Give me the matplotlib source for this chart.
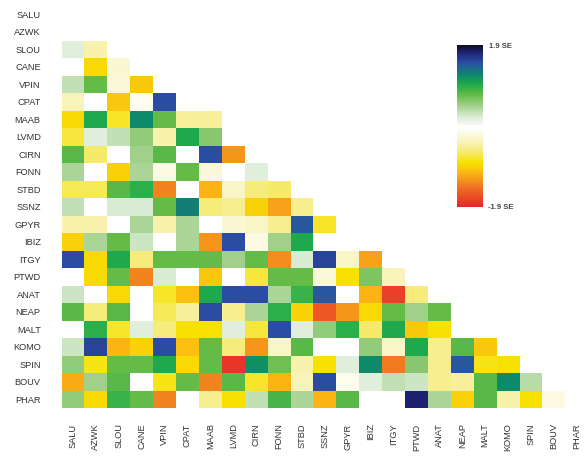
import numpy as np
import matplotlib
matplotlib.use("Agg")
import matplotlib.pyplot as plt
from matplotlib.colors import LinearSegmentedColormap, Normalize

plt.rcParams['font.family'] = ['Liberation Sans', 'DejaVu Sans']

populations = ["SALU", "AZWK", "SLOU", "CANE", "VPIN", "CPAT", "MAAB", "LVMD",
               "CIRN", "FONN", "STBD", "SSNZ", "GPYR", "IBIZ", "ITGY", "PTWD",
               "ANAT", "NEAP", "MALT", "KOMO", "SPIN", "BOUV", "PHAR"]

# Pairwise values (in SE units), one list per row, columns in population order
row_AZWK = [0.0]
row_SLOU = [0.2, -0.4]
row_CANE = [0.0, -0.9, -0.25]
row_VPIN = [0.35, 0.75, -0.2, -1.0]
row_CPAT = [-0.35, 0.0, -1.0, -0.1, 1.5]
row_MAAB = [-0.9, 1.0, -0.75, 1.2, 0.75, -0.45, -0.45]
row_LVMD = [-0.7, 0.2, 0.35, 0.55, -0.4, 1.0, 0.6]
row_CIRN = [0.8, -0.6, 0.0, 0.5, 0.8, 0.0, 1.5, -1.25]
row_FONN = [0.45, 0.0, -0.95, 0.45, -0.15, 0.75, -0.2, 0.0, 0.2]
row_STBD = [-0.65, -0.65, 0.8, 0.95, -1.35, 0.0, -1.1, -0.3, -0.55, -0.6]
row_SSNZ = [0.35, 0.0, 0.25, 0.25, 0.75, 1.25, -0.55, -0.5, -0.95, -1.2, -0.5]
row_GPYR = [-0.4, -0.4, 0.0, 0.45, -0.4, 0.45, 0.0, -0.25, -0.3, -0.5, 1.45, -0.75]
row_IBIZ = [-0.95, 0.45, 0.75, 0.3, 0.0, 0.45, -1.25, 1.5, -0.15, 0.5, 1.0, 0.0, 0.0]
row_ITGY = [1.5, -0.9, 1.0, -0.55, 0.75, 0.75, 0.75, 0.5, 0.75, -1.3, 0.25, 1.55,
            -0.3, -1.2]
row_PTWD = [0.0, -0.9, 0.75, -1.35, 0.25, 0.0, -1.0, 0.0, -0.7, 0.75, 0.75, -0.2,
            -0.85, 0.65, -0.35]
row_ANAT = [0.3, 0.0, -0.9, 0.0, -0.75, -1.05, 1.0, 1.5, 1.5, 0.45, 0.9, 1.45,
            0.0, -1.1, -1.75, -0.55]
row_NEAP = [0.8, -0.55, 0.8, 0.0, -0.65, -0.45, 1.5, -0.5, 0.45, 0.95, -0.95, -1.6,
            -1.25, -0.9, 0.75, 0.5, 0.75]
row_MALT = [0.0, 0.95, -0.75, 0.2, -0.55, -0.85, -0.85, 0.2, -0.7, 1.5, 0.2, 0.55,
            0.95, -0.6, 1.0, -1.0, -0.85, 0.0]
row_KOMO = [0.3, 1.55, -1.1, -0.95, 1.5, -1.05, 0.75, -0.55, -1.25, -0.3, 0.8, 0.0,
            0.0, 0.55, -0.3, 1.0, -0.5, 0.8, -1.0]
row_SPIN = [0.55, -0.8, 0.75, 0.75, 1.0, -0.9, 0.75, -1.8, 1.15, 0.7, -0.4, -0.85,
            0.2, 1.2, -1.4, 0.6, -0.5, 1.45, -0.8, -0.85]
row_BOUV = [-1.15, 0.5, 0.8, 0.0, -0.8, 0.75, -1.35, 0.8, -0.75, -1.1, -0.35, 1.5,
            -0.1, 0.2, 0.35, 0.3, -0.5, -0.45, 0.8, 1.2, 0.4]
row_PHAR = [0.55, -0.9, 0.9, 0.75, -1.35, 0.0, -0.5, -0.85, 0.35, 0.85, 0.45, -1.1,
            0.8, 0.0, 0.0, 1.75, 0.45, -0.95, 0.8, -0.4, -0.85, -0.15]

rows = {
    "AZWK": row_AZWK, "SLOU": row_SLOU, "CANE": row_CANE, "VPIN": row_VPIN,
    "CPAT": row_CPAT, "MAAB": row_MAAB, "LVMD": row_LVMD, "CIRN": row_CIRN,
    "FONN": row_FONN, "STBD": row_STBD, "SSNZ": row_SSNZ, "GPYR": row_GPYR,
    "IBIZ": row_IBIZ, "ITGY": row_ITGY, "PTWD": row_PTWD, "ANAT": row_ANAT,
    "NEAP": row_NEAP, "MALT": row_MALT, "KOMO": row_KOMO, "SPIN": row_SPIN,
    "BOUV": row_BOUV, "PHAR": row_PHAR,
}

vmin, vmax = -1.9, 1.9

# Diverging scale: red-orange-yellow below zero, green-teal-blue-black above
anchor_values = [-1.9, -1.4, -1.1, -0.85, -0.55, -0.3, 0.0, 0.25, 0.5, 0.75,
                 0.98, 1.2, 1.5, 1.75, 1.9]
anchor_colors = ["#e8262a", "#f07a22", "#fbb614", "#f7e200", "#f6ec80", "#f9f5c8",
                 "#ffffff", "#d9ebd2", "#a0d08a", "#66bb48", "#22ad4a", "#0c8a6a",
                 "#2c4ea6", "#1c2270", "#0e0e20"]
positions = [(v - vmin) / (vmax - vmin) for v in anchor_values]
cmap = LinearSegmentedColormap.from_list("se_scale", list(zip(positions, anchor_colors)))
norm = Normalize(vmin=vmin, vmax=vmax)

n = len(populations)
matrix = np.full((n, n), np.nan)
for name, vals in rows.items():
    i = populations.index(name)
    matrix[i, :len(vals)] = vals
masked = np.ma.masked_invalid(matrix)

W, H = 584, 457
fig = plt.figure(figsize=(W / 100, H / 100), dpi=100)
fig.patch.set_facecolor("white")

# main grid
left, right, top, bottom = 61.5, 588.2, 5.7, 408.2
ax = fig.add_axes([left / W, 1 - bottom / H, (right - left) / W, (bottom - top) / H])
ax.pcolormesh(np.arange(n + 1), np.arange(n + 1), masked, cmap=cmap, norm=norm,
              shading="flat", edgecolors="none", antialiased=False)
ax.set_xlim(0, n)
ax.set_ylim(n, 0)
ax.set_xticks(np.arange(n) + 0.5)
ax.set_yticks(np.arange(n) + 0.5)
ax.set_xticklabels(populations, rotation=90, fontsize=6.7, color="#333333")
ax.set_yticklabels(populations, fontsize=6.7, color="#333333")
ax.tick_params(axis="x", length=0, pad=11)
ax.tick_params(axis="y", length=0, pad=15)
for s in ax.spines.values():
    s.set_visible(False)
ax.set_facecolor("white")

# colour key: upper (positive) and lower (negative) halves with a small gap
cb_left, cb_right = 457, 483
up_top, up_bot = 45, 125
lo_top, lo_bot = 129, 207
ax_up = fig.add_axes([cb_left / W, 1 - up_bot / H, (cb_right - cb_left) / W, (up_bot - up_top) / H])
ax_lo = fig.add_axes([cb_left / W, 1 - lo_bot / H, (cb_right - cb_left) / W, (lo_bot - lo_top) / H])
grad_up = np.linspace(vmax, 0.05, 200).reshape(-1, 1)
grad_lo = np.linspace(-0.05, vmin, 200).reshape(-1, 1)
ax_up.imshow(grad_up, cmap=cmap, norm=norm, aspect="auto", interpolation="bilinear")
ax_lo.imshow(grad_lo, cmap=cmap, norm=norm, aspect="auto", interpolation="bilinear")
for a in (ax_up, ax_lo):
    a.set_axis_off()

fig.text(489 / W, 1 - 47 / H, "1.9 SE", fontsize=5.5, color="#444444",
         fontweight="bold", ha="left", va="center")
fig.text(488 / W, 1 - 207 / H, "-1.9 SE", fontsize=5.5, color="#444444",
         fontweight="bold", ha="left", va="center")

fig.savefig("out.png", dpi=100, facecolor="white")
